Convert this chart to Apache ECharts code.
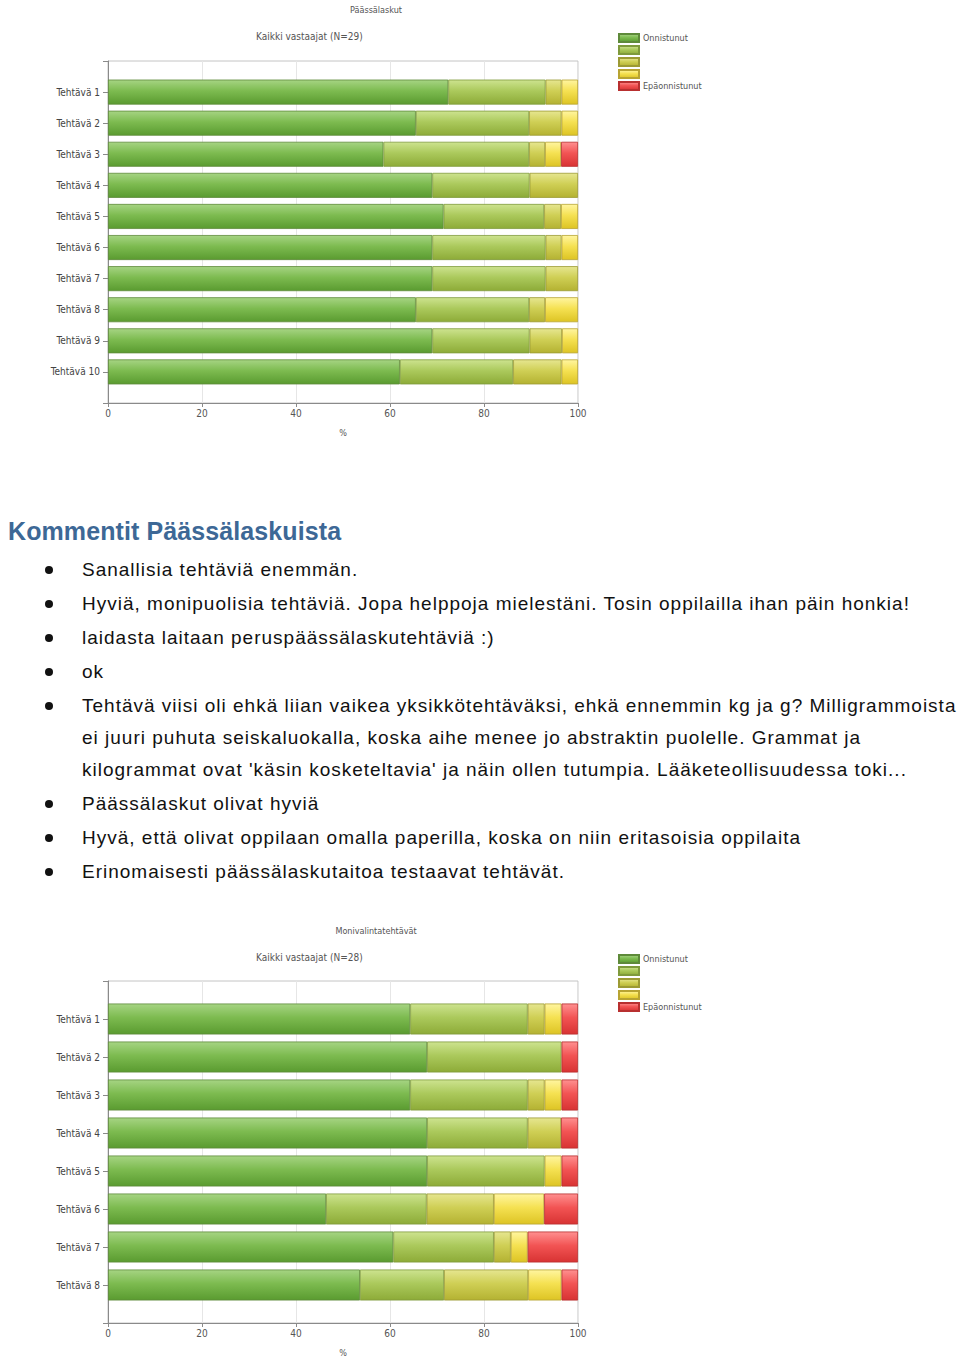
<!DOCTYPE html>
<html>
<head>
<meta charset="utf-8">
<script src="https://cdn.jsdelivr.net/npm/echarts@6/dist/echarts.min.js"></script>
<style>
html,body{margin:0;padding:0;background:#fff;}
#wrap{position:relative;width:960px;height:1361px;overflow:hidden;}
#page{position:absolute;left:0;top:0;width:960px;height:1361px;}
#comments{position:absolute;left:0;top:0;width:960px;height:1361px;pointer-events:none;
  font-family:"Liberation Sans", Arial, sans-serif;color:#111;}
.ln{position:absolute;left:82px;height:24px;line-height:24px;font-size:19px;letter-spacing:1px;white-space:nowrap;}
.bul{position:absolute;left:45px;width:8px;height:8px;border-radius:50%;background:#111;}
.hd{position:absolute;left:8px;height:30px;line-height:30px;font-size:25px;font-weight:bold;color:#3d6896;letter-spacing:0.1px;white-space:nowrap;}
</style>
</head>
<body>
<div id="wrap">
<div id="page"></div>
<div id="comments"></div>
</div>
<script>
// ---------- DATA ----------
const levelNames = ['Onnistunut', 'Taso 2', 'Taso 3', 'Taso 4', 'Epäonnistunut'];
const xTicks = [0, 20, 40, 60, 80, 100];

// Chart 1: Päässälaskut (N=29), percentages
const chart1Title = 'Päässälaskut';
const chart1Sub = 'Kaikki vastaajat (N=29)';
const chart1Tasks = ['Tehtävä 1','Tehtävä 2','Tehtävä 3','Tehtävä 4','Tehtävä 5','Tehtävä 6','Tehtävä 7','Tehtävä 8','Tehtävä 9','Tehtävä 10'];
const c1Level1 = [72.4, 65.5, 58.6, 69.0, 71.4, 69.0, 69.0, 65.5, 69.0, 62.1];
const c1Level2 = [20.7, 24.1, 31.0, 20.7, 21.4, 24.1, 24.1, 24.1, 20.7, 24.1];
const c1Level3 = [3.4, 6.9, 3.4, 10.3, 3.6, 3.4, 6.9, 3.4, 6.9, 10.3];
const c1Level4 = [3.5, 3.5, 3.4, 0, 3.6, 3.5, 0, 7.0, 3.4, 3.5];
const c1Level5 = [0, 0, 3.6, 0, 0, 0, 0, 0, 0, 0];

// Chart 2: Monivalintatehtävät (N=28), percentages
const chart2Title = 'Monivalintatehtävät';
const chart2Sub = 'Kaikki vastaajat (N=28)';
const chart2Tasks = ['Tehtävä 1','Tehtävä 2','Tehtävä 3','Tehtävä 4','Tehtävä 5','Tehtävä 6','Tehtävä 7','Tehtävä 8'];
const c2Level1 = [64.3, 67.9, 64.3, 67.9, 67.9, 46.4, 60.7, 53.6];
const c2Level2 = [25.0, 28.6, 25.0, 21.4, 25.0, 21.4, 21.4, 17.9];
const c2Level3 = [3.6, 0, 3.6, 7.1, 0, 14.3, 3.6, 17.9];
const c2Level4 = [3.6, 0, 3.6, 0, 3.6, 10.7, 3.6, 7.1];
const c2Level5 = [3.5, 3.5, 3.5, 3.6, 3.5, 7.2, 10.7, 3.5];

// Comments
const commentsHeading = 'Kommentit Päässälaskuista';
const comments = [
  ['Sanallisia tehtäviä enemmän.'],
  ['Hyviä, monipuolisia tehtäviä. Jopa helppoja mielestäni. Tosin oppilailla ihan päin honkia!'],
  ['laidasta laitaan peruspäässälaskutehtäviä :)'],
  ['ok'],
  ['Tehtävä viisi oli ehkä liian vaikea yksikkötehtäväksi, ehkä ennemmin kg ja g? Milligrammoista',
   'ei juuri puhuta seiskaluokalla, koska aihe menee jo abstraktin puolelle. Grammat ja',
   "kilogrammat ovat 'käsin kosketeltavia' ja näin ollen tutumpia. Lääketeollisuudessa toki..."],
  ['Päässälaskut olivat hyviä'],
  ['Hyvä, että olivat oppilaan omalla paperilla, koska on niin eritasoisia oppilaita'],
  ['Erinomaisesti päässälaskutaitoa testaavat tehtävät.']
];

// ---------- COMMENTS (HTML text) ----------
(function () {
  const box = document.getElementById('comments');
  const hd = document.createElement('div');
  hd.className = 'hd'; hd.style.top = (531 - 15) + 'px'; hd.textContent = commentsHeading;
  box.appendChild(hd);
  let y = 570;
  comments.forEach(lines => {
    const b = document.createElement('div');
    b.className = 'bul'; b.style.top = (y - 4) + 'px';
    box.appendChild(b);
    lines.forEach((t, k) => {
      const d = document.createElement('div');
      d.className = 'ln'; d.style.top = (y - 12) + 'px'; d.textContent = t;
      box.appendChild(d);
      y += (k < lines.length - 1) ? 32 : 34;
    });
  });
})();

// ---------- STYLE ----------
const grad = (a, b, c) => new echarts.graphic.LinearGradient(0, 0, 0, 1, [
  {offset: 0, color: a}, {offset: 0.45, color: b}, {offset: 1, color: c}]);
const levelColors = [
  grad('#a6d483', '#7dbb50', '#5a9b30'),
  grad('#cde38f', '#abc95c', '#8dab38'),
  grad('#e6e690', '#cfcf55', '#b4b232'),
  grad('#fff5a0', '#f5e152', '#ddc424'),
  grad('#ff9090', '#f25454', '#d83333')
];
const borderColors = ['#5e8a3a', '#7f9a3c', '#9c9a34', '#b8a432', '#b83030'];
const FONT = '"DejaVu Sans Condensed", "DejaVu Sans", sans-serif';

const chart = echarts.init(document.getElementById('page'), null, {renderer: 'svg', width: 960, height: 1361});

function pad(arr) { return [null].concat(arr.map(v => (v ? v : '-')), [null]); }

function makeAxes(idx, tasks) {
  const x = {
    type: 'value', gridIndex: idx, min: 0, max: 100, interval: 20,
    name: '%', nameLocation: 'middle', nameGap: 25,
    nameTextStyle: {fontSize: 9, color: '#555', fontFamily: FONT},
    axisLine: {show: true, lineStyle: {color: '#8a8a8a'}},
    axisTick: {show: true, length: 4, lineStyle: {color: '#8a8a8a'}},
    axisLabel: {fontSize: 10, color: '#555', fontFamily: FONT, margin: 5},
    splitLine: {show: true, lineStyle: {color: '#e6e6e6'}}
  };
  const y = {
    type: 'category', gridIndex: idx, inverse: true, boundaryGap: false,
    data: [''].concat(tasks, ['']),
    axisLine: {show: true, lineStyle: {color: '#8a8a8a'}},
    axisTick: {show: true, length: 5, interval: 0, lineStyle: {color: '#8a8a8a'}},
    axisLabel: {interval: 0, fontSize: 10, color: '#444', fontFamily: FONT, margin: 8},
    splitLine: {show: false}
  };
  return {x, y};
}

const a1 = makeAxes(0, chart1Tasks);
const a2 = makeAxes(1, chart2Tasks);

const c1Data = [c1Level1, c1Level2, c1Level3, c1Level4, c1Level5];
const c2Data = [c2Level1, c2Level2, c2Level3, c2Level4, c2Level5];

const series = [];
c1Data.forEach((d, i) => series.push({
  type: 'bar', name: levelNames[i], stack: 'c1', xAxisIndex: 0, yAxisIndex: 0,
  barWidth: 25, data: pad(d),
  itemStyle: {color: levelColors[i], borderColor: borderColors[i], borderWidth: 0.8},
  emphasis: {disabled: true}
}));
c2Data.forEach((d, i) => series.push({
  type: 'bar', name: levelNames[i], stack: 'c2', xAxisIndex: 1, yAxisIndex: 1,
  barWidth: 31, data: pad(d),
  itemStyle: {color: levelColors[i], borderColor: borderColors[i], borderWidth: 0.8},
  emphasis: {disabled: true}
}));

const legendCommon = {
  orient: 'vertical', left: 618, padding: 0, itemWidth: 20, itemHeight: 8, itemGap: 2,
  icon: 'rect', selectedMode: false, data: levelNames,
  textStyle: {fontSize: 9, color: '#555', fontFamily: FONT, padding: [0, 0, 0, -1]},
  formatter: n => (n === levelNames[0] || n === levelNames[4]) ? n : ''
};

const graphics = [];
function chartText(x, y, text, size, align) {
  graphics.push({type: 'text', x: x, y: y, silent: true,
    style: {text: text, font: size + 'px ' + FONT, fill: '#555', align: align, verticalAlign: 'middle'}});
}
chartText(376, 10, chart1Title, 9, 'center');
chartText(256, 36, chart1Sub, 10, 'left');
chartText(376, 931, chart2Title, 9, 'center');
chartText(256, 957, chart2Sub, 10, 'left');

chart.setOption({
  animation: false,
  backgroundColor: '#fff',
  grid: [
    {left: 108, top: 61, width: 470, height: 342, show: true, borderColor: '#c4c4c4', borderWidth: 1, backgroundColor: '#fff'},
    {left: 108, top: 981, width: 470, height: 342, show: true, borderColor: '#c4c4c4', borderWidth: 1, backgroundColor: '#fff'}
  ],
  xAxis: [a1.x, a2.x],
  yAxis: [a1.y, a2.y],
  legend: [
    Object.assign({}, legendCommon, {top: 33}),
    Object.assign({}, legendCommon, {top: 954})
  ],
  series: series,
  graphic: graphics
});
</script>
</body>
</html>
